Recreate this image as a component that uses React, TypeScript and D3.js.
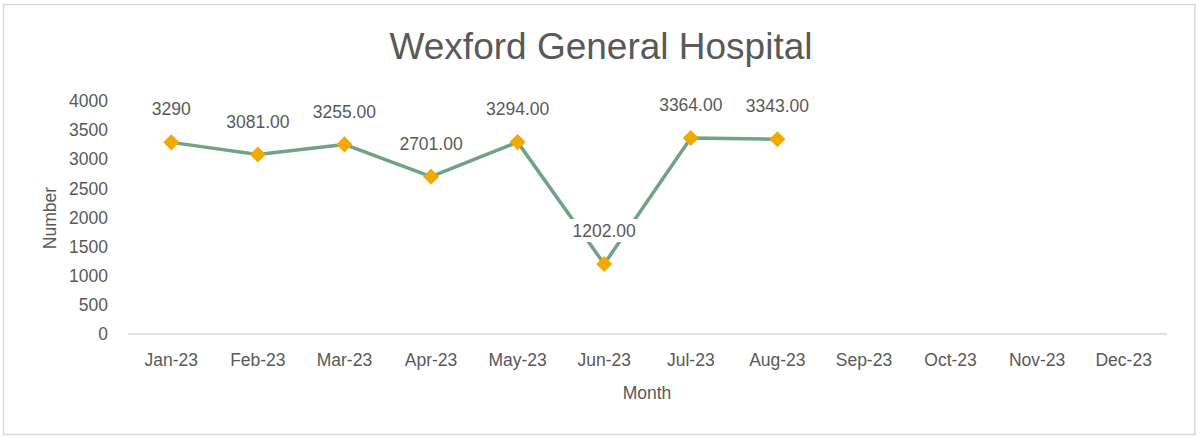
import React from "react";
import * as d3 from "d3";

const months = ["Jan-23","Feb-23","Mar-23","Apr-23","May-23","Jun-23","Jul-23","Aug-23","Sep-23","Oct-23","Nov-23","Dec-23"];
const values = [3290, 3081, 3255, 2701, 3294, 1202, 3364, 3343];
const valueLabels = ["3290","3081.00","3255.00","2701.00","3294.00","1202.00","3364.00","3343.00"];
const yTicks = [0, 500, 1000, 1500, 2000, 2500, 3000, 3500, 4000];
const title = "Wexford General Hospital";
const xTitle = "Month";
const yTitle = "Number";

const W = 1202, H = 437;
const FONT = "'Liberation Sans', Arial, sans-serif";
const TEXT = "#595959";

export default function App() {
  const x = d3.scaleBand<string>().domain(months).range([128, 1167]);
  const y = d3.scaleLinear().domain([0, 4000]).range([334, 101]);
  const cx = (i: number) => (x(months[i]) as number) + x.bandwidth() / 2;
  const line = d3.line<number>().x((_, i) => cx(i)).y((d) => y(d));
  const sym = d3.symbol().type(d3.symbolDiamond2).size(165)();
  return (
    <svg width={W} height={H} style={{ position: "fixed", left: 0, top: 0, background: "#fff" }} fontFamily={FONT}>
      <rect x={3.5} y={4.5} width={1191.5} height={430} fill="#fff" stroke="#d9d9d9" strokeWidth={1.5} />
      <text x={601} y={59} textAnchor="middle" fontSize={37} fill={TEXT}>{title}</text>
      {yTicks.map((t) => (
        <text key={t} x={108} y={y(t)} dy="0.35em" textAnchor="end" fontSize={17.5} fill={TEXT}>{t}</text>
      ))}
      <line x1={128} x2={1167} y1={y(0)} y2={y(0)} stroke="#d9d9d9" strokeWidth={1.5} />
      {months.map((m) => (
        <text key={m} x={(x(m) as number) + x.bandwidth() / 2} y={360} dy="0.35em" textAnchor="middle" fontSize={17.5} fill={TEXT}>{m}</text>
      ))}
      <text x={647} y={393} dy="0.35em" textAnchor="middle" fontSize={17.5} fill={TEXT}>{xTitle}</text>
      <text transform={`translate(50,218) rotate(-90)`} dy="0.35em" textAnchor="middle" fontSize={17.5} fill={TEXT}>{yTitle}</text>
      <path d={line(values) || ""} fill="none" stroke="#6fa287" strokeWidth={3.5} strokeLinejoin="round" />
      {values.map((v, i) => (
        <path key={i} d={sym || ""} transform={`translate(${cx(i)},${y(v)})`} fill="#f2a900" />
      ))}
      {values.map((v, i) => (
        <g key={"l" + i}>
          <rect x={cx(i) - 34} y={y(v) - 45} width={68} height={23} fill="#fff" opacity={i === 5 ? 1 : 0} />
          <text x={cx(i)} y={y(v) - 33} dy="0.35em" textAnchor="middle" fontSize={17.5} fill={TEXT}>{valueLabels[i]}</text>
        </g>
      ))}
    </svg>
  );
}
